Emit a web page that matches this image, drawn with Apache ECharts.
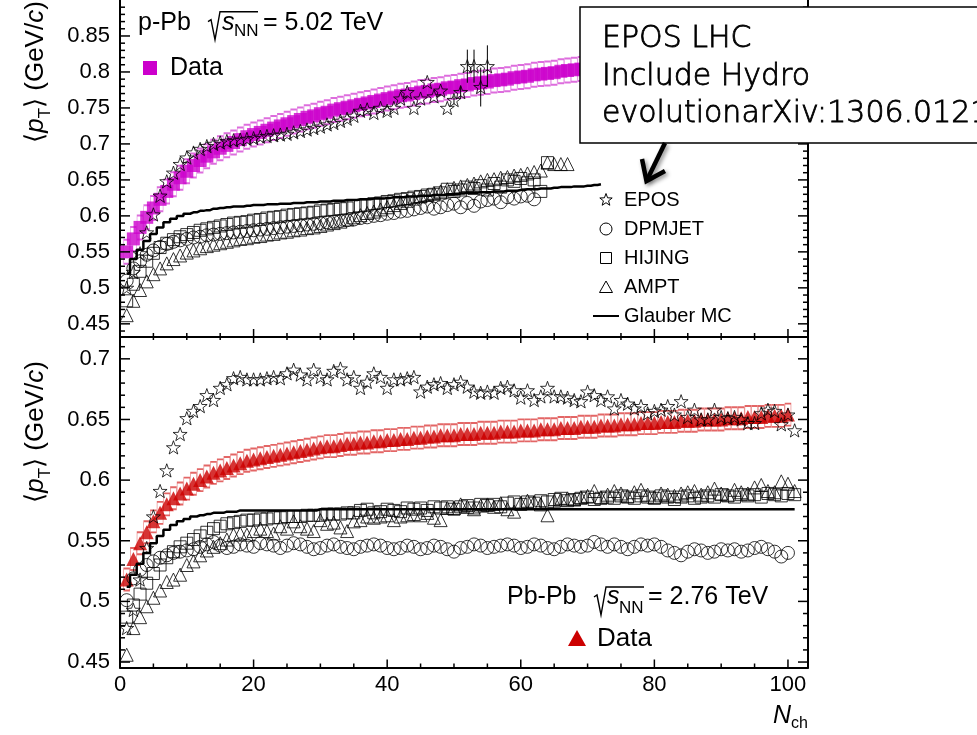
<!DOCTYPE html>
<html>
<head>
<meta charset="utf-8">
<script src="https://cdn.jsdelivr.net/npm/echarts@6/dist/echarts.min.js"></script>
<style>
html,body{margin:0;padding:0;background:#fff;}
#chart{width:977px;height:735px;}
</style>
</head>
<body>
<div id="chart"></div>
<script>
// <pT> vs Nch : p-Pb (top panel) and Pb-Pb (bottom panel), data compared to MC generators.
// Every series is a list of values at Nch = 1, 2, 3, ...

// ---- p-Pb, sqrt(sNN) = 5.02 TeV ----
const pPbData = [0.550,0.568,0.584,0.598,0.611,0.623,0.634,0.644,0.653,0.662,
0.670,0.677,0.683,0.689,0.694,0.698,0.702,0.706,0.710,0.713,
0.716,0.719,0.722,0.725,0.728,0.731,0.734,0.737,0.739,0.742,
0.744,0.747,0.749,0.751,0.753,0.755,0.757,0.759,0.761,0.763,
0.765,0.767,0.768,0.770,0.772,0.773,0.775,0.776,0.778,0.779,
0.781,0.782,0.784,0.785,0.786,0.788,0.789,0.790,0.792,0.793,
0.794,0.796,0.797,0.798,0.799,0.801,0.802,0.803,0.804,0.805,
0.806,0.807];

const pPbEpos = [0.500,0.522,0.548,0.577,0.602,0.628,0.648,0.660,0.672,0.681,
0.688,0.693,0.697,0.700,0.702,0.704,0.705,0.706,0.707,0.708,
0.710,0.711,0.712,0.713,0.714,0.716,0.718,0.720,0.722,0.724,
0.727,0.729,0.732,0.735,0.739,0.746,0.748,0.743,0.750,0.746,
0.750,0.763,0.772,0.750,0.763,0.786,0.766,0.774,0.750,0.761,
0.772,0.808,0.808,0.779,0.808];

// statistical errors of the high-Nch EPOS points: [Nch, error]
const pPbEposErr = [[50,0.006],[51,0.008],[52,0.023],[53,0.023],[54,0.027],[55,0.029]];

const pPbDpmjet = [0.510,0.527,0.537,0.546,0.552,0.557,0.561,0.564,0.566,0.568,
0.570,0.571,0.573,0.574,0.575,0.576,0.577,0.578,0.579,0.580,
0.581,0.582,0.583,0.584,0.585,0.586,0.587,0.588,0.589,0.590,
0.591,0.592,0.593,0.594,0.595,0.597,0.598,0.600,0.601,0.603,
0.604,0.606,0.607,0.609,0.611,0.613,0.610,0.612,0.615,0.617,
0.612,0.618,0.614,0.620,0.622,0.624,0.619,0.626,0.624,0.627,
0.628,0.623];

const pPbHijing = [0.482,0.505,0.523,0.537,0.548,0.556,0.562,0.567,0.571,0.574,
0.577,0.580,0.582,0.584,0.586,0.588,0.590,0.591,0.592,0.594,
0.595,0.597,0.598,0.599,0.601,0.602,0.603,0.604,0.605,0.607,
0.608,0.609,0.610,0.611,0.613,0.614,0.615,0.617,0.618,0.620,
0.621,0.623,0.624,0.626,0.627,0.629,0.630,0.632,0.637,0.634,
0.636,0.640,0.638,0.642,0.636,0.645,0.640,0.650,0.648,0.652,
0.646,0.650,0.634,0.674];

const pPbAmpt = [0.462,0.482,0.497,0.509,0.519,0.527,0.534,0.540,0.545,0.549,
0.552,0.555,0.558,0.560,0.562,0.564,0.566,0.568,0.569,0.571,
0.572,0.574,0.575,0.577,0.578,0.580,0.581,0.583,0.584,0.586,
0.588,0.590,0.592,0.595,0.598,0.601,0.604,0.606,0.609,0.612,
0.615,0.618,0.621,0.624,0.627,0.629,0.632,0.634,0.637,0.639,
0.641,0.643,0.645,0.648,0.650,0.651,0.653,0.654,0.656,0.657,
0.659,0.661,0.663,0.674,0.672,0.672,0.672];

const pPbGlauber = [0.520,0.540,0.553,0.565,0.575,0.584,0.591,0.596,0.600,0.603,
0.605,0.607,0.608,0.610,0.611,0.612,0.613,0.613,0.614,0.615,
0.615,0.616,0.616,0.617,0.617,0.618,0.618,0.619,0.619,0.620,
0.620,0.621,0.621,0.622,0.622,0.623,0.623,0.624,0.624,0.625,
0.626,0.626,0.627,0.627,0.628,0.628,0.629,0.629,0.630,0.630,
0.631,0.632,0.632,0.633,0.633,0.634,0.634,0.635,0.635,0.636,
0.637,0.637,0.638,0.638,0.639,0.640,0.640,0.641,0.641,0.642,
0.643,0.644];

// ---- Pb-Pb, sqrt(sNN) = 2.76 TeV ----
const PbPbData = [0.518,0.535,0.548,0.557,0.566,0.573,0.580,0.585,0.589,0.593,
0.597,0.600,0.603,0.606,0.608,0.610,0.612,0.614,0.616,0.617,
0.618,0.619,0.620,0.621,0.622,0.623,0.624,0.625,0.626,0.627,
0.628,0.628,0.629,0.630,0.630,0.631,0.631,0.632,0.632,0.633,
0.633,0.634,0.634,0.635,0.635,0.636,0.636,0.637,0.637,0.637,
0.638,0.638,0.638,0.639,0.639,0.639,0.640,0.640,0.640,0.641,
0.641,0.641,0.642,0.642,0.642,0.643,0.643,0.643,0.644,0.644,
0.644,0.645,0.645,0.645,0.646,0.646,0.646,0.647,0.647,0.647,
0.648,0.648,0.648,0.649,0.649,0.649,0.650,0.650,0.650,0.650,
0.651,0.651,0.651,0.652,0.652,0.652,0.653,0.653,0.653,0.654];

const PbPbEpos = [0.478,0.493,0.518,0.544,0.570,0.591,0.608,0.627,0.638,0.651,
0.657,0.661,0.670,0.666,0.676,0.679,0.684,0.685,0.683,0.683,
0.683,0.684,0.685,0.684,0.688,0.691,0.687,0.683,0.691,0.685,
0.683,0.690,0.692,0.683,0.685,0.676,0.681,0.688,0.685,0.676,
0.683,0.683,0.684,0.685,0.673,0.677,0.679,0.680,0.676,0.679,
0.681,0.677,0.673,0.672,0.673,0.672,0.676,0.677,0.674,0.668,
0.674,0.666,0.669,0.676,0.669,0.669,0.668,0.666,0.665,0.673,
0.670,0.666,0.669,0.659,0.666,0.663,0.659,0.661,0.655,0.657,
0.658,0.661,0.654,0.665,0.652,0.658,0.650,0.650,0.658,0.652,
0.651,0.652,0.650,0.647,0.647,0.655,0.658,0.657,0.646,0.654,
0.641];

const PbPbDpmjet = [0.501,0.519,0.526,0.530,0.533,0.536,0.538,0.540,0.541,0.542,
0.543,0.545,0.547,0.549,0.546,0.544,0.545,0.547,0.546,0.545,
0.548,0.547,0.546,0.544,0.546,0.548,0.547,0.545,0.543,0.544,
0.546,0.547,0.545,0.544,0.543,0.545,0.546,0.547,0.546,0.544,
0.543,0.544,0.546,0.545,0.543,0.544,0.546,0.545,0.543,0.541,
0.544,0.545,0.547,0.546,0.544,0.545,0.546,0.547,0.546,0.544,
0.545,0.547,0.546,0.544,0.543,0.545,0.547,0.546,0.545,0.546,
0.549,0.547,0.545,0.547,0.545,0.543,0.545,0.547,0.546,0.547,
0.545,0.542,0.540,0.538,0.541,0.543,0.542,0.540,0.541,0.543,
0.542,0.543,0.541,0.542,0.544,0.545,0.543,0.541,0.537,0.540];

const PbPbHijing = [0.487,0.497,0.506,0.515,0.523,0.530,0.536,0.541,0.545,0.548,
0.551,0.554,0.557,0.560,0.562,0.564,0.565,0.566,0.567,0.567,
0.568,0.568,0.569,0.569,0.570,0.570,0.570,0.571,0.571,0.571,
0.572,0.572,0.572,0.573,0.573,0.575,0.576,0.573,0.574,0.576,
0.575,0.574,0.577,0.576,0.577,0.575,0.578,0.577,0.578,0.576,
0.578,0.579,0.577,0.580,0.579,0.580,0.578,0.581,0.582,0.580,
0.582,0.581,0.583,0.582,0.584,0.585,0.583,0.584,0.585,0.586,
0.584,0.585,0.586,0.585,0.587,0.586,0.585,0.587,0.586,0.585,
0.587,0.586,0.584,0.586,0.587,0.585,0.586,0.587,0.586,0.588,
0.587,0.586,0.588,0.587,0.588,0.586,0.589,0.588,0.587,0.589,
0.588];

const PbPbAmpt = [0.456,0.478,0.487,0.496,0.503,0.509,0.516,0.518,0.522,0.530,
0.533,0.538,0.542,0.545,0.548,0.551,0.555,0.556,0.555,0.558,
0.560,0.558,0.556,0.562,0.560,0.566,0.562,0.560,0.558,0.567,
0.564,0.565,0.561,0.558,0.566,0.567,0.570,0.569,0.570,0.571,
0.567,0.570,0.571,0.572,0.571,0.573,0.569,0.567,0.577,0.577,
0.580,0.578,0.576,0.579,0.580,0.578,0.581,0.576,0.574,0.581,
0.583,0.582,0.580,0.571,0.583,0.584,0.585,0.584,0.586,0.587,
0.591,0.586,0.588,0.591,0.589,0.587,0.590,0.592,0.588,0.586,
0.589,0.588,0.587,0.589,0.590,0.591,0.588,0.590,0.593,0.589,
0.588,0.592,0.590,0.589,0.594,0.596,0.591,0.590,0.599,0.597,
0.591];

const PbPbGlauber = [0.512,0.522,0.531,0.540,0.548,0.554,0.559,0.563,0.566,0.568,
0.570,0.571,0.572,0.573,0.573,0.574,0.574,0.575,0.575,0.575,
0.575,0.575,0.575,0.575,0.575,0.575,0.575,0.575,0.575,0.576,
0.576,0.576,0.576,0.576,0.576,0.576,0.576,0.576,0.576,0.576,
0.576,0.576,0.576,0.576,0.576,0.576,0.576,0.576,0.576,0.576,
0.576,0.576,0.576,0.576,0.576,0.576,0.576,0.576,0.576,0.576,
0.576,0.576,0.576,0.576,0.576,0.576,0.576,0.576,0.576,0.576,
0.576,0.576,0.576,0.576,0.576,0.576,0.576,0.576,0.576,0.576,
0.576,0.576,0.576,0.576,0.576,0.576,0.576,0.576,0.576,0.576,
0.576,0.576,0.576,0.576,0.576,0.576,0.576,0.576,0.576,0.576,
0.576];

// ---- axis ranges and tick labels ----
const xRange = [0, 103];
const xMajorTicks = [0, 20, 40, 60, 80, 100];
const yTopRange = [0.4317, 0.9];
const yTopMajorTicks = [0.45, 0.5, 0.55, 0.6, 0.65, 0.7, 0.75, 0.8, 0.85];
const yBotRange = [0.4455, 0.718];
const yBotMajorTicks = [0.45, 0.5, 0.55, 0.6, 0.65, 0.7];

// minor ticks: every 5 in Nch, every 0.01 in <pT>
const xMinorTicks = [];
for (let v = 5; v <= 100; v += 5) if (v % 20 !== 0) xMinorTicks.push(v);
const yTopMinorTicks = [];
for (let k = 44; k <= 89; k++) if (k % 5 !== 0) yTopMinorTicks.push(k / 100);
const yBotMinorTicks = [];
for (let k = 45; k <= 71; k++) if (k % 5 !== 0) yBotMinorTicks.push(k / 100);

const FONT = '"Liberation Sans", Arial, Helvetica, sans-serif';
const STAR = 'path://M50 0L61.76 33.82L97.55 34.55L69.02 56.18L79.39 90.45L50 70L20.61 90.45L30.98 56.18L2.45 34.55L38.24 33.82Z';

const pts = vals => vals.map((v, i) => [i + 1, v]);

function xAx(grid, pos, labels) {
  return {
    type: 'value', gridIndex: grid, position: pos, min: xRange[0], max: xRange[1],
    splitLine: { show: false }, axisTick: { show: false },
    axisLine: { show: true, onZero: false, lineStyle: { color: '#000', width: 2 } },
    axisLabel: labels ? { show: true, customValues: xMajorTicks, margin: 6, fontSize: 22,
                          fontFamily: FONT, color: '#000' } : { show: false }
  };
}
function yAx(grid, pos, range, ticks, labels) {
  return {
    type: 'value', gridIndex: grid, position: pos, min: range[0], max: range[1],
    splitLine: { show: false }, axisTick: { show: false },
    axisLine: { show: true, onZero: false, lineStyle: { color: '#000', width: 2 } },
    axisLabel: labels ? { show: true, customValues: ticks, margin: 10, fontSize: 22,
                          fontFamily: FONT, color: '#000' } : { show: false }
  };
}

// frame ticks (pointing into the frame), placed through the axes' own scales
// side: 0 left, 1 right, 2 bottom, 3 top ; kind: 1 major, 0 minor
function tickSeries(xi, yi, yRange, yMaj, yMin, sides, len) {
  const items = [];
  [0, 1].forEach(s => {
    yMaj.forEach(v => items.push([s, v, 1]));
    yMin.forEach(v => items.push([s, v, 0]));
  });
  sides.forEach(s => {
    xMajorTicks.forEach(v => items.push([s, v, 1]));
    xMinorTicks.forEach(v => items.push([s, v, 0]));
  });
  return {
    type: 'custom', xAxisIndex: xi, yAxisIndex: yi, z: 20, zlevel: 0, clip: false, silent: true, animation: false,
    data: items,
    renderItem: function (params, api) {
      const side = api.value(0), v = api.value(1), major = api.value(2) === 1;
      let p, dx = 0, dy = 0;
      if (side === 0) { p = api.coord([xRange[0], v]); dx = major ? len.y[0] : len.y[1]; }
      else if (side === 1) { p = api.coord([xRange[1], v]); dx = -(major ? len.y[0] : len.y[1]); }
      else if (side === 2) { p = api.coord([v, yRange[0]]); dy = -(major ? len.b[0] : len.b[1]); }
      else { p = api.coord([v, yRange[1]]); dy = major ? len.t[0] : len.t[1]; }
      return { type: 'line', shape: { x1: p[0], y1: p[1], x2: p[0] + dx, y2: p[1] + dy },
               style: { stroke: '#000', lineWidth: 1.5 } };
    }
  };
}

const hollow = { color: 'rgba(0,0,0,0)', borderColor: '#000', borderWidth: 1 };

function scat(data, xi, yi, symbol, size, style, z) {
  return { type: 'scatter', data: data, xAxisIndex: xi, yAxisIndex: yi, symbol: symbol,
           symbolSize: size, symbolKeepAspect: true, itemStyle: style, z: z,
           silent: true, animation: false, emphasis: { disabled: true } };
}
function glauber(data, xi, yi) {
  return { type: 'line', step: 'middle', data: data, xAxisIndex: xi, yAxisIndex: yi,
           symbol: 'none', lineStyle: { color: '#000', width: 2.5 }, z: 3,
           silent: true, animation: false };
}
function panelSeries(xi, yi, d) {
  return [
    scat(pts(d.data), xi, yi, 'rect', [6, d.box], { color: 'rgba(0,0,0,0)', borderColor: d.boxColor, borderWidth: 1 }, 2),
    scat(pts(d.data), xi, yi, d.dataSymbol, d.dataSize, { color: d.color }, 2),
    glauber(pts(d.glauber), xi, yi),
    scat(pts(d.dpmjet), xi, yi, 'circle', 13, hollow, 4),
    scat(pts(d.hijing), xi, yi, 'rect', 12, hollow, 4),
    scat(pts(d.ampt), xi, yi, 'triangle', 13, hollow, 4),
    scat(pts(d.epos), xi, yi, STAR, 14, hollow, 5)
  ];
}

const series = [].concat(
  panelSeries(0, 0, { data: pPbData, box: 24, boxColor: '#d548d5', dataSymbol: 'rect', dataSize: 13,
                      color: '#cc00cc', glauber: pPbGlauber, dpmjet: pPbDpmjet, hijing: pPbHijing,
                      ampt: pPbAmpt, epos: pPbEpos }),
  [{
    type: 'custom', xAxisIndex: 0, yAxisIndex: 0, z: 5, silent: true, animation: false,
    data: pPbEposErr.map(([n, e]) => [n, pPbEpos[n - 1], e]),
    renderItem: function (params, api) {
      const n = api.value(0), v = api.value(1), e = api.value(2);
      const a = api.coord([n, v + e]), b = api.coord([n, v - e]);
      return { type: 'line', shape: { x1: a[0], y1: a[1], x2: b[0], y2: b[1] },
               style: { stroke: '#000', lineWidth: 1 } };
    }
  }],
  panelSeries(1, 2, { data: PbPbData, box: 22, boxColor: '#dc4040', dataSymbol: 'triangle', dataSize: 14,
                      color: '#cc0000', glauber: PbPbGlauber, dpmjet: PbPbDpmjet, hijing: PbPbHijing,
                      ampt: PbPbAmpt, epos: PbPbEpos }),
  [
    tickSeries(0, 0, yTopRange, yTopMajorTicks, yTopMinorTicks, [2], { y: [10, 5], b: [8, 4] }),
    tickSeries(1, 2, yBotRange, yBotMajorTicks, yBotMinorTicks, [2, 3], { y: [10, 5], b: [8, 4], t: [6, 3] })
  ]
);

// ---- text and annotation elements ----
function txt(x, y, text, size, extra) {
  return { type: 'text', x: x, y: y, z: 110,
           style: Object.assign({ text: text, fontSize: size, fontFamily: FONT, fill: '#000',
                                  align: 'left', verticalAlign: 'middle' }, extra || {}) };
}
function radical(X, B, L) {
  return { type: 'polyline', z: 110,
           shape: { points: [[X - 3, B - 10], [X, B - 12], [X + 4, B + 8], [X + 9, B - 20], [X + 9 + L, B - 20]] },
           style: { stroke: '#000', lineWidth: 1.4, fill: null } };
}
function starPoints(cx, cy, R, r) {
  const p = [];
  for (let k = 0; k < 10; k++) {
    const a = -Math.PI / 2 + k * Math.PI / 5, rad = k % 2 ? r : R;
    p.push([cx + rad * Math.cos(a), cy + rad * Math.sin(a)]);
  }
  return p;
}
const titleRich = {
  i: { fontStyle: 'italic', fontSize: 26, fontFamily: FONT, lineHeight: 36 },
  s: { fontSize: 17, fontFamily: FONT, lineHeight: 17, verticalAlign: 'bottom' }
};
function yTitle(y) {
  return { type: 'text', x: 36, y: y, rotation: Math.PI / 2, z: 110,
           style: { text: '\u27e8{i|p}{s|T}\u27e9 (GeV/{i|c})', rich: titleRich, fontSize: 26,
                    fontFamily: FONT, lineHeight: 36, fill: '#000', align: 'center', verticalAlign: 'middle' } };
}

const legendRows = [200, 229, 258, 287, 316];
const legendNames = ['EPOS', 'DPMJET', 'HIJING', 'AMPT', 'Glauber MC'];

const graphics = [
  yTitle(72), yTitle(432),
  { type: 'text', x: 808, y: 716, z: 110,
    style: { text: '{i|N}{s|ch}', rich: { i: { fontStyle: 'italic', fontSize: 25, fontFamily: FONT, lineHeight: 32 },
                                          s: { fontSize: 16, fontFamily: FONT, lineHeight: 16, verticalAlign: 'bottom' } },
             fontSize: 25, fontFamily: FONT, lineHeight: 32, fill: '#000', align: 'right', verticalAlign: 'middle' } },

  // p-Pb label and its data marker
  txt(138, 23, 'p-Pb', 25),
  radical(211, 31.7, 38),
  txt(222, 23, 's', 25, { fontStyle: 'italic' }),
  txt(234, 31, 'NN', 17),
  txt(263, 23, '= 5.02 TeV', 25),
  { type: 'rect', z: 110, shape: { x: 143, y: 61, width: 14, height: 14 }, style: { fill: '#cc00cc' } },
  txt(170, 68, 'Data', 25),

  // Pb-Pb label and its data marker
  txt(507, 597, 'Pb-Pb', 25),
  radical(597, 607, 38),
  txt(607, 597, 's', 25, { fontStyle: 'italic' }),
  txt(619, 608, 'NN', 17),
  txt(648, 597, '= 2.76 TeV', 25),
  { type: 'polygon', z: 110, shape: { points: [[577, 630], [586, 646], [568, 646]] }, style: { fill: '#cc0000' } },
  txt(597, 639, 'Data', 26),

  // MC legend
  { type: 'polygon', z: 110, shape: { points: starPoints(606, legendRows[0], 6.5, 2.7) },
    style: { fill: 'none', stroke: '#000', lineWidth: 1 } },
  { type: 'circle', z: 110, shape: { cx: 606, cy: legendRows[1], r: 6 }, style: { fill: 'none', stroke: '#000', lineWidth: 1 } },
  { type: 'rect', z: 110, shape: { x: 600.5, y: legendRows[2] - 5.5, width: 11, height: 11 }, style: { fill: 'none', stroke: '#000', lineWidth: 1 } },
  { type: 'polygon', z: 110, shape: { points: [[606, legendRows[3] - 6], [612.5, legendRows[3] + 5.5], [599.5, legendRows[3] + 5.5]] },
    style: { fill: 'none', stroke: '#000', lineWidth: 1 } },
  { type: 'line', z: 110, shape: { x1: 593, y1: legendRows[4], x2: 619, y2: legendRows[4] }, style: { stroke: '#000', lineWidth: 2 } }
].concat(legendNames.map((n, i) => txt(624, legendRows[i], n, 20)));

// annotation box with arrow
const boxFont = { fontFamily: '"DejaVu Sans", sans-serif', fontWeight: 200, stroke: '#000', lineWidth: 0.8 };
graphics.push(
  { type: 'rect', z: 120, shape: { x: 580, y: 7, width: 420, height: 136 },
    style: { fill: '#fff', stroke: '#000', lineWidth: 1.5 } },
  Object.assign(txt(602, 39, 'EPOS LHC', 30, boxFont), { z: 125 }),
  Object.assign(txt(602, 77, 'Include Hydro', 30, boxFont), { z: 125 }),
  Object.assign(txt(602, 114, 'evolutionarXiv:1306.0121', 30, boxFont), { z: 125 }),
  { type: 'polyline', z: 121, shape: { points: [[665, 143], [647, 180]] },
    style: { stroke: '#000', lineWidth: 4.5, fill: null, shadowBlur: 4, shadowColor: 'rgba(0,0,0,0.45)', shadowOffsetX: 2, shadowOffsetY: 2 } },
  { type: 'polyline', z: 121, shape: { points: [[642, 159], [646.5, 181], [665, 171]] },
    style: { stroke: '#000', lineWidth: 4.5, fill: null, lineJoin: 'miter', shadowBlur: 4, shadowColor: 'rgba(0,0,0,0.45)', shadowOffsetX: 2, shadowOffsetY: 2 } }
);

const option = {
  animation: false,
  backgroundColor: '#fff',
  grid: [
    { left: 120, top: -14.2, width: 688, height: 351.2, containLabel: false },
    { left: 120, top: 337, width: 688, height: 330.5, containLabel: false }
  ],
  xAxis: [
    xAx(0, 'bottom', false),
    xAx(1, 'bottom', true),
    xAx(1, 'top', false)
  ],
  yAxis: [
    yAx(0, 'left', yTopRange, yTopMajorTicks, true),
    yAx(0, 'right', yTopRange, yTopMajorTicks, false),
    yAx(1, 'left', yBotRange, yBotMajorTicks, true),
    yAx(1, 'right', yBotRange, yBotMajorTicks, false)
  ],
  series: series,
  graphic: { elements: graphics }
};

const chart = echarts.init(document.getElementById('chart'), null, { renderer: 'canvas' });
chart.setOption(option);
</script>
</body>
</html>
